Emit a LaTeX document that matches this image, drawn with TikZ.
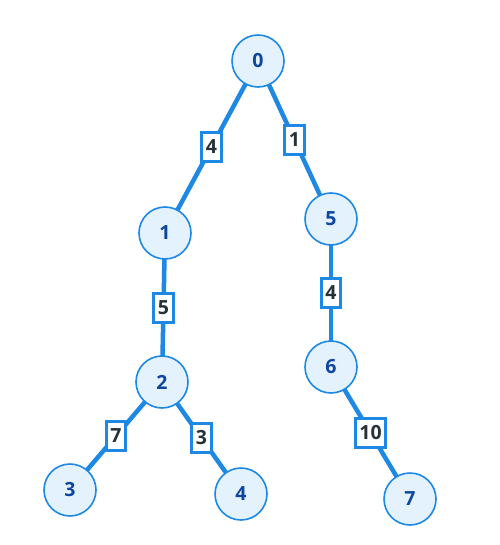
\documentclass[tikz,border=0pt]{standalone}
\usepackage{fontspec}
\setmainfont{Open Sans}
\usetikzlibrary{backgrounds}
\definecolor{edgeblue}{HTML}{1E88E5}
\definecolor{nodefill}{HTML}{E3F2FD}
\definecolor{nodetext}{HTML}{0D47A1}
\definecolor{labeltext}{HTML}{263238}
\tikzset{
  vert/.style={circle, draw=edgeblue, line width=1.6pt, fill=nodefill, minimum size=52pt, inner sep=0pt,
    font=\fontsize{19.5}{19.5}\selectfont\bfseries, text=nodetext},
  wedge/.style={draw=edgeblue, line width=4.5pt},
  wlabel/.style={rectangle, draw=edgeblue, line width=3pt, fill=white, inner xsep=4pt, inner ysep=0pt,
    minimum height=29pt, font=\fontsize{19.5}{19.5}\selectfont\bfseries, text=labeltext, midway}
}
\begin{document}
\begin{tikzpicture}[x=1pt,y=-1pt]
\useasboundingbox (0,0) rectangle (499,545);
\node[vert] (n0) at (258,61) {0};
\node[vert] (n1) at (165,233) {1};
\node[vert] (n5) at (331,219) {5};
\node[vert] (n2) at (162,382) {2};
\node[vert] (n6) at (331,367) {6};
\node[vert] (n3) at (70,490) {3};
\node[vert] (n4) at (241,494) {4};
\node[vert] (n7) at (410,499) {7};
\begin{scope}[on background layer]
\draw[wedge] (n0.center) -- (n1.center) node[wlabel] {4};
\draw[wedge] (n0.center) -- (n5.center) node[wlabel] {1};
\draw[wedge] (n1.center) -- (n2.center) node[wlabel] {5};
\draw[wedge] (n5.center) -- (n6.center) node[wlabel] {4};
\draw[wedge] (n2.center) -- (n3.center) node[wlabel] {7};
\draw[wedge] (n2.center) -- (n4.center) node[wlabel] {3};
\draw[wedge] (n6.center) -- (n7.center) node[wlabel] {10};
\end{scope}
\end{tikzpicture}
\end{document}
